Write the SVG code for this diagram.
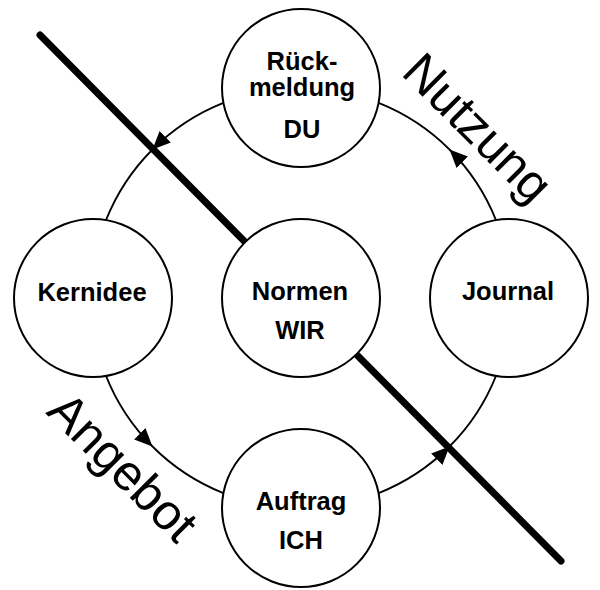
<svg xmlns="http://www.w3.org/2000/svg" width="600" height="590" viewBox="0 0 600 590">
<style>
.node{fill:#fff;stroke:#000;stroke-width:2}
.lbl{font-family:"Liberation Sans",Arial,sans-serif;font-weight:bold;font-size:25.5px;text-anchor:middle;fill:#000}
.conn{fill:none;stroke:#000;stroke-width:1.8;marker-mid:url(#ah)}
.big{font-family:"Liberation Sans",Arial,sans-serif;font-size:50px;fill:#000}
</style>
<defs>
<marker id="ah" markerUnits="userSpaceOnUse" markerWidth="20" markerHeight="18" refX="18" refY="8" orient="auto">
<path d="M0,0 L18,8 L0,16 z" fill="#000"/>
</marker>
</defs>
<rect width="600" height="590" fill="#fff"/>
<g id="connectors">
<path class="conn" d="M223.4,102.9 A210,210 0 0 0 152.5,149.5 A210,210 0 0 0 105.9,220.4"/>
<path class="conn" d="M105.9,375.6 A210,210 0 0 0 152.5,446.5 A210,210 0 0 0 223.4,493.1"/>
<path class="conn" d="M378.6,493.1 A210,210 0 0 0 449.5,446.5 A210,210 0 0 0 496.1,375.6"/>
<path class="conn" d="M496.1,220.4 A210,210 0 0 0 449.5,149.5 A210,210 0 0 0 378.6,102.9"/>
</g>
<g id="divider">
<line x1="40" y1="35" x2="561" y2="561" stroke="#000" stroke-width="7" stroke-linecap="round"/>
</g>
<g id="rueckmeldung">
<circle class="node" cx="301" cy="88" r="79"/>
<text class="lbl" x="302" y="70">Rück-</text>
<text class="lbl" x="302" y="96">meldung</text>
<text class="lbl" x="302" y="138">DU</text>
</g>
<g id="kernidee">
<circle class="node" cx="93" cy="298" r="79"/>
<text class="lbl" x="92" y="301">Kernidee</text>
</g>
<g id="normen">
<circle class="node" cx="301" cy="298" r="79"/>
<text class="lbl" x="300" y="300">Normen</text>
<text class="lbl" x="300" y="339">WIR</text>
</g>
<g id="journal">
<circle class="node" cx="509" cy="298" r="79"/>
<text class="lbl" x="508" y="300">Journal</text>
</g>
<g id="auftrag">
<circle class="node" cx="301" cy="508" r="79"/>
<text class="lbl" x="301" y="510">Auftrag</text>
<text class="lbl" x="301" y="549">ICH</text>
</g>
<g id="labels">
<text class="big" transform="translate(400,74) rotate(45)">Nutzung</text>
<text class="big" transform="translate(45,413) rotate(45)">Angebot</text>
</g>
</svg>
